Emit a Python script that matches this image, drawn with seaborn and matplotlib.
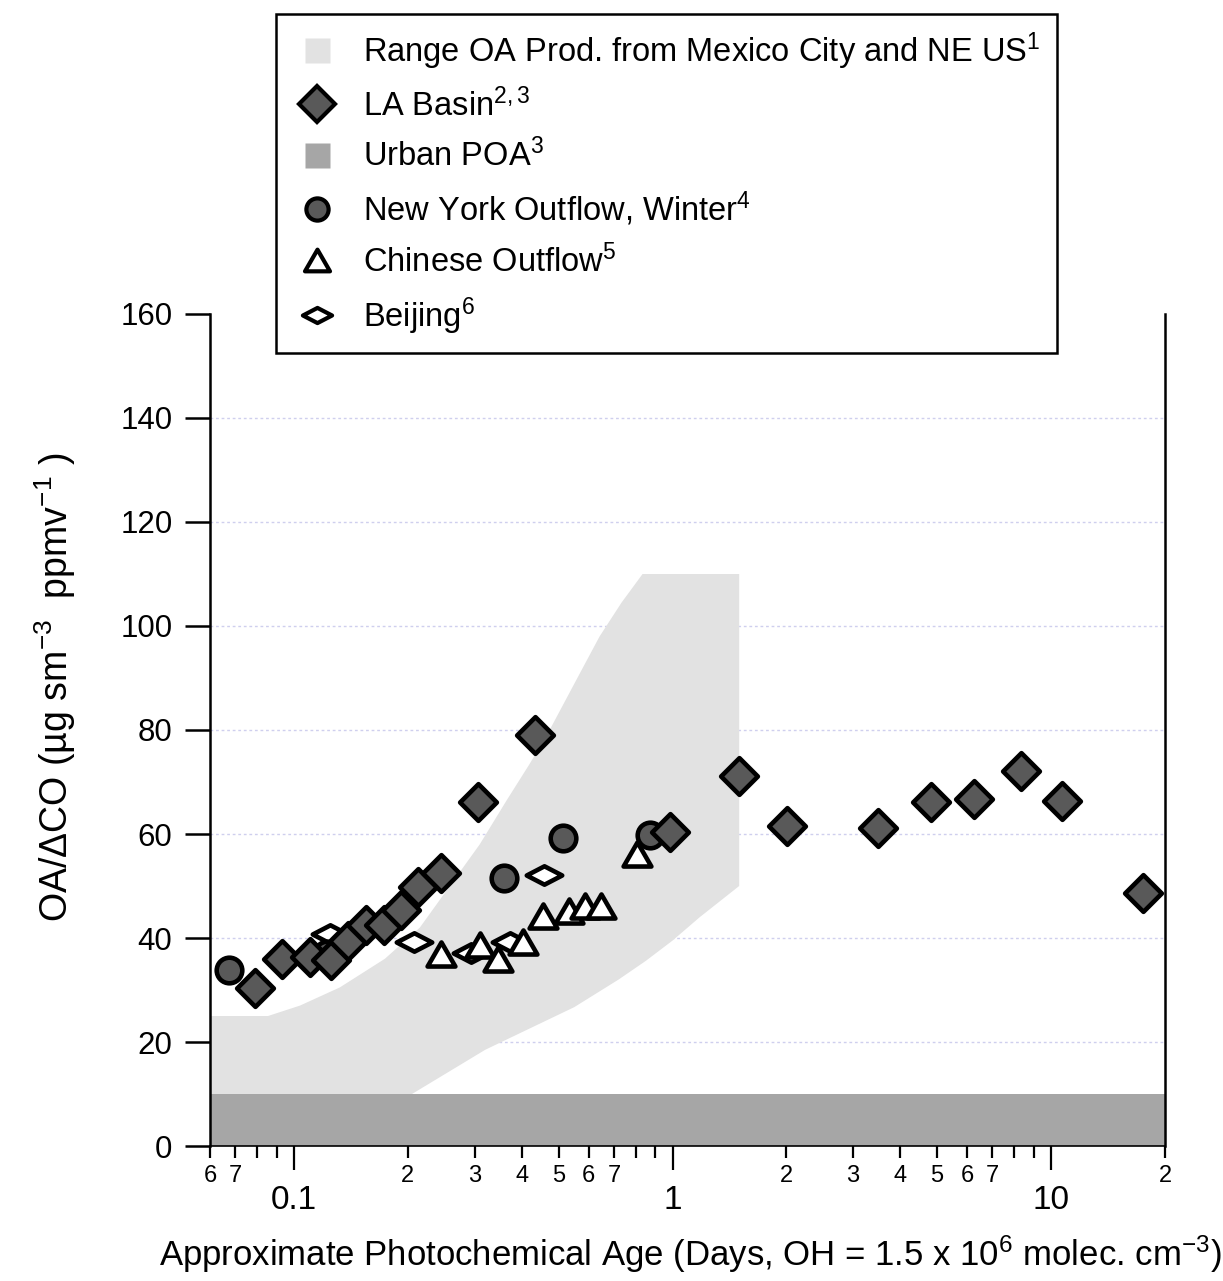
import numpy as np
import matplotlib
matplotlib.use("Agg")
import matplotlib.pyplot as plt
import seaborn as sns
from matplotlib.path import Path
from matplotlib.markers import MarkerStyle
from matplotlib.lines import Line2D
from matplotlib.ticker import FixedLocator, FixedFormatter

# ---------------- data ----------------
la_age = [0.079, 0.093, 0.110, 0.125, 0.139, 0.155, 0.173, 0.192, 0.213, 0.245,
          0.307, 0.434, 0.986, 1.50, 2.01, 3.50, 4.81, 6.24, 8.32, 10.7, 17.5]
la_ratio = [30.4, 35.9, 36.4, 35.8, 39.5, 42.5, 42.5, 45.4, 49.8, 52.5,
            66.1, 79.0, 60.4, 71.2, 61.5, 61.1, 66.2, 66.7, 72.1, 66.3, 48.7]

ny_age = [0.0672, 0.122, 0.358, 0.515, 0.873]
ny_ratio = [33.8, 37.0, 51.5, 59.3, 59.8]

china_age = [0.244, 0.310, 0.346, 0.403, 0.454, 0.533, 0.589, 0.649, 0.806]
china_ratio = [36.9, 38.7, 36.0, 39.3, 44.3, 45.1, 46.1, 46.1, 56.2]

beijing_age = [0.1245, 0.208, 0.294, 0.373, 0.458]
beijing_ratio = [40.7, 39.3, 37.2, 39.2, 52.1]

range_upper_age = [0.06, 0.0854, 0.1037, 0.1322, 0.1738, 0.215, 0.258, 0.3095, 0.3648,
                   0.4195, 0.4736, 0.5512, 0.6418, 0.7334, 0.8334, 1.5]
range_upper_ratio = [25, 25, 27, 30.5, 36, 42, 50, 58, 66.5,
                     73.5, 80, 89, 98, 104.5, 110, 110]
range_lower_age = [0.06, 0.205, 0.32, 0.55, 0.72, 0.85, 1.0, 1.18, 1.5]
range_lower_ratio = [10, 10, 18.5, 26.7, 32, 35.6, 39.5, 44, 50]

poa_age = [0.06, 20]
poa_low = [0, 0]
poa_high = [10, 10]

x_major_ticks = [0.1, 1, 10]
x_major_labels = ["0.1", "1", "10"]
x_minor_ticks = [0.06, 0.07, 0.08, 0.09,
                 0.2, 0.3, 0.4, 0.5, 0.6, 0.7, 0.8, 0.9,
                 2, 3, 4, 5, 6, 7, 8, 9, 20]
x_minor_labels = ["6", "7", "", "",
                  "2", "3", "4", "5", "6", "7", "", "",
                  "2", "3", "4", "5", "6", "7", "", "", "2"]
y_ticks = [0, 20, 40, 60, 80, 100, 120, 140, 160]
y_grid = [20, 40, 60, 80, 100, 120, 140]

legend_labels = [
    r"Range OA Prod. from Mexico City and NE US$^{1}$",
    r"LA Basin$^{2,3}$",
    r"Urban POA$^{3}$",
    r"New York Outflow, Winter$^{4}$",
    r"Chinese Outflow$^{5}$",
    r"Beijing$^{6}$",
]

# ---------------- style ----------------
sns.set_theme(style="ticks")
plt.rcParams["font.family"] = ["Liberation Sans", "DejaVu Sans"]
plt.rcParams["mathtext.fontset"] = "custom"
plt.rcParams["mathtext.rm"] = "Liberation Sans"
plt.rcParams["mathtext.it"] = "Liberation Sans"
plt.rcParams["mathtext.bf"] = "Liberation Sans:bold"
plt.rcParams["mathtext.default"] = "regular"
for k in ["text.color", "axes.labelcolor", "xtick.color", "ytick.color", "axes.edgecolor"]:
    plt.rcParams[k] = "black"

RANGE_C = "#e2e2e2"
POA_C = "#a6a6a6"
FILL_C = "#595959"

diamond = MarkerStyle("D")
tri = MarkerStyle(Path([(-1, -0.866), (1, -0.866), (0, 0.866), (-1, -0.866)],
                       [Path.MOVETO, Path.LINETO, Path.LINETO, Path.CLOSEPOLY]))
flat_d = MarkerStyle(Path([(-1, 0), (0, 0.52), (1, 0), (0, -0.52), (-1, 0)],
                          [Path.MOVETO, Path.LINETO, Path.LINETO, Path.LINETO, Path.CLOSEPOLY]))

fig = plt.figure(figsize=(12.23, 12.81), dpi=100)
ax = fig.add_axes([210 / 1223, 135 / 1281, 955 / 1223, 832 / 1281])
ax.set_xscale("log")

# grid lines (behind the shaded areas)
for g in y_grid:
    ax.axhline(g, color="#cfcfee", lw=1.0, ls=(0, (2, 2)), zorder=0.5)

# shaded ranges
poly_x = list(range_upper_age) + list(range_lower_age[::-1])
poly_y = list(range_upper_ratio) + list(range_lower_ratio[::-1])
ax.fill(poly_x, poly_y, color=RANGE_C, lw=0, zorder=1)
ax.fill_between(poa_age, poa_low, poa_high, color=POA_C, lw=0, zorder=1.5)

# scatter series
EW = 3.3
sns.scatterplot(x=beijing_age, y=beijing_ratio, marker=flat_d, s=650,
                color="white", edgecolor="black", linewidth=EW, ax=ax, zorder=3)
sns.scatterplot(x=china_age, y=china_ratio, marker=tri, s=400,
                color="white", edgecolor="black", linewidth=EW, ax=ax, zorder=4)
sns.scatterplot(x=ny_age, y=ny_ratio, marker="o", s=340,
                color=FILL_C, edgecolor="black", linewidth=EW, ax=ax, zorder=5)
sns.scatterplot(x=la_age, y=la_ratio, marker=diamond, s=350,
                color=FILL_C, edgecolor="black", linewidth=EW, ax=ax, zorder=6)

# axes
ax.set_xlim(0.06, 20)
ax.set_ylim(0, 160)
ax.set_yticks(y_ticks)
ax.set_yticklabels([str(t) for t in y_ticks])
ax.xaxis.set_major_locator(FixedLocator(x_major_ticks))
ax.xaxis.set_major_formatter(FixedFormatter(x_major_labels))
ax.xaxis.set_minor_locator(FixedLocator(x_minor_ticks))
ax.xaxis.set_minor_formatter(FixedFormatter(x_minor_labels))

ax.tick_params(axis="y", which="major", direction="out", length=18, width=1.8,
               labelsize=22.5, pad=9)
ax.tick_params(axis="x", which="major", direction="out", length=17, width=1.6,
               labelsize=24, pad=11)
ax.tick_params(axis="x", which="minor", direction="out", length=8.5, width=1.6,
               labelsize=17, pad=5)

for side in ["left", "right"]:
    ax.spines[side].set_color("black")
    ax.spines[side].set_linewidth(1.8)
ax.spines["bottom"].set_color("black")
ax.spines["bottom"].set_linewidth(1.2)
ax.spines["top"].set_visible(False)
ax.grid(False)

ax.set_xlabel(r"Approximate Photochemical Age (Days, OH = 1.5 x 10$^{6}$ molec. cm$^{-3}$)",
              fontsize=25)
ax.xaxis.set_label_coords((690 - 210) / 955, (1146 - 1254) / 832)
ax.xaxis.label.set_verticalalignment("center")

ax.set_ylabel("OA/ΔCO (µg sm$^{-3}$  ppmv$^{-1}$ )", fontsize=27)
ax.yaxis.label.set_rotation_mode("default")
ax.yaxis.label.set_verticalalignment("center")
ax.yaxis.set_label_coords((55 - 210) / 955, (1146 - 687) / 832)

# legend
handles = [
    Line2D([], [], ls="none", marker="s", ms=18, mfc=RANGE_C, mec="none"),
    Line2D([], [], ls="none", marker=diamond, ms=18, mfc=FILL_C, mec="black", mew=3),
    Line2D([], [], ls="none", marker="s", ms=18, mfc=POA_C, mec="none"),
    Line2D([], [], ls="none", marker="o", ms=16, mfc=FILL_C, mec="black", mew=3),
    Line2D([], [], ls="none", marker=tri, ms=18, mfc="white", mec="black", mew=3),
    Line2D([], [], ls="none", marker=flat_d, ms=21, mfc="white", mec="black", mew=3),
]
leg = ax.legend(handles, legend_labels, loc="upper left",
                bbox_to_anchor=(276 / 1223, 1 - 14 / 1281), bbox_transform=fig.transFigure,
                borderaxespad=0, fontsize=23.5, frameon=True, fancybox=False, shadow=False,
                borderpad=0.5, handlelength=1.5, handleheight=0.8, handletextpad=0.68,
                labelspacing=0.5)
leg.get_frame().set_edgecolor("black")
leg.get_frame().set_linewidth(1.8)
leg.get_frame().set_facecolor("white")
leg.get_frame().set_alpha(1)
leg.set_zorder(10)

fig.savefig("out.png", dpi=100, facecolor="white")
